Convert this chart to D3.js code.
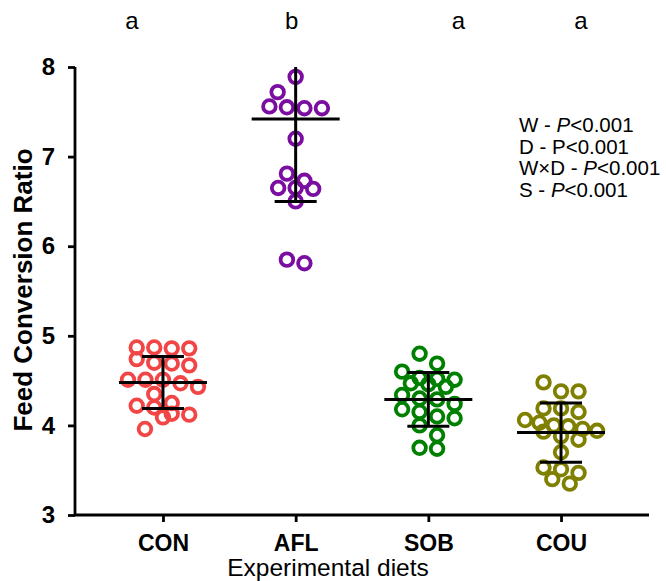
<!DOCTYPE html>
<html>
<head>
<meta charset="utf-8">
<script src="https://cdn.jsdelivr.net/npm/d3@7"></script>
<style>
  body { margin: 0; background: #fff; }
  text { font-family: Arial, "Liberation Sans", sans-serif; }
</style>
</head>
<body>
<svg width="666" height="581"></svg>
<script>
// data
const categories = ["CON", "AFL", "SOB", "COU"];
const conValues = [4.87, 4.87, 4.86, 4.86, 4.74, 4.70, 4.69, 4.67, 4.51, 4.51, 4.51,
                   4.47, 4.43, 4.35, 4.25, 4.22, 4.20, 4.13, 4.12, 4.09, 3.96];
const aflValues = [7.89, 7.72, 7.56, 7.55, 7.54, 7.54, 7.20, 6.81, 6.73, 6.65, 6.65,
                   6.64, 6.50, 5.85, 5.81];
const sobValues = [4.80, 4.69, 4.60, 4.53, 4.52, 4.51, 4.47, 4.46, 4.43, 4.34, 4.30,
                   4.29, 4.24, 4.18, 4.15, 4.10, 4.08, 4.00, 3.89, 3.75, 3.74];
const couValues = [4.48, 4.38, 4.38, 4.19, 4.19, 4.15, 4.06, 4.03, 4.00, 3.99, 3.96,
                   3.94, 3.93, 3.88, 3.84, 3.70, 3.53, 3.51, 3.47, 3.40, 3.35];
const groupMeans = [4.48, 7.42, 4.29, 3.92];
const groupSDs = [0.29, 0.92, 0.30, 0.33];
const groupLetters = ["a", "b", "a", "a"];
const yTicks = [3, 4, 5, 6, 7, 8];
const statLines = [
  ["W - ", "P", "<0.001"],
  ["D - P<0.001", "", ""],
  ["W×D - ", "P", "<0.001"],
  ["S - ", "P", "<0.001"]
];

const groups = [conValues, aflValues, sobValues, couValues];
const colors = ["#f24646", "#7a0ea0", "#008000", "#808000"];

const svg = d3.select("svg");

const x = d3.scalePoint().domain(categories).range([75, 649]).padding(0.663);
const y = d3.scaleLinear().domain([3, 8]).range([515, 67]);

// prism-like scatter: rows of near-equal values spread around the centre
function scatterLayout(vals) {
  const sorted = vals.slice().sort((a, b) => b - a);
  const rows = [];
  sorted.forEach(v => {
    const last = rows[rows.length - 1];
    if (last && y(v) - y(last[0]) < 11) last.push(v);
    else rows.push([v]);
  });
  const out = [];
  let prevSingle = false, side = -1;
  rows.forEach(r => {
    const n = r.length;
    const s = n > 1 ? Math.min(17.5, 72 / (n - 1)) : 0;
    // a lone point right below another lone point gets pushed aside
    let shift = 0;
    if (n === 1 && prevSingle) { shift = side * 18; side = -side; }
    r.forEach((v, i) => out.push({ v, dx: (i - (n - 1) / 2) * s + shift }));
    prevSingle = n === 1 && shift === 0;
  });
  return out;
}

// axes
const yAxis = svg.append("g")
  .attr("transform", "translate(75,0)")
  .call(d3.axisLeft(y).tickValues(yTicks).tickFormat(d3.format("d")).tickSize(7).tickPadding(13));
const xAxis = svg.append("g")
  .attr("transform", "translate(0,515)")
  .call(d3.axisBottom(x).tickSize(7).tickSizeOuter(0).tickPadding(13));

[yAxis, xAxis].forEach(a => {
  a.selectAll("path, line").attr("stroke", "#000").attr("stroke-width", 2.8);
  a.selectAll("text").attr("fill", "#000").style("font-weight", "bold")
    .style("font-family", "Arial, 'Liberation Sans', sans-serif");
});
yAxis.selectAll("text").style("font-size", "24px");
xAxis.selectAll("text").style("font-size", "23px");
yAxis.select("path").attr("d", "M0," + y(8) + "V" + y(3));
xAxis.select("path").attr("d", "M75,0H649");

// points
groups.forEach((vals, gi) => {
  const cx = x(categories[gi]);
  svg.append("g").selectAll("circle")
    .data(scatterLayout(vals))
    .join("circle")
    .attr("cx", d => cx + d.dx)
    .attr("cy", d => y(d.v))
    .attr("r", 6.3)
    .attr("fill", "none")
    .attr("stroke", colors[gi])
    .attr("stroke-width", 3.8);
});

// mean and SD bars
const [yMin, yMax] = y.domain();
categories.forEach((c, i) => {
  const cx = x(c);
  const m = groupMeans[i], s = groupSDs[i];
  const hi = Math.min(m + s, yMax), lo = Math.max(m - s, yMin);
  const g = svg.append("g").attr("stroke", "#000").attr("stroke-width", 3);
  g.append("line").attr("x1", cx).attr("x2", cx).attr("y1", y(hi)).attr("y2", y(lo));
  g.append("line").attr("x1", cx - 44).attr("x2", cx + 44).attr("y1", y(m)).attr("y2", y(m));
  if (m + s <= yMax)
    g.append("line").attr("x1", cx - 21).attr("x2", cx + 21).attr("y1", y(hi)).attr("y2", y(hi));
  g.append("line").attr("x1", cx - 21).attr("x2", cx + 21).attr("y1", y(lo)).attr("y2", y(lo));
});

// significance letters
const letterShift = [-31, -4, 30, 20];
svg.append("g").selectAll("text")
  .data(groupLetters)
  .join("text")
  .attr("x", (d, i) => x(categories[i]) + letterShift[i])
  .attr("y", 29)
  .attr("text-anchor", "middle")
  .style("font-size", "24px")
  .text(d => d);

// axis titles
svg.append("text")
  .attr("x", 328).attr("y", 576)
  .attr("text-anchor", "middle")
  .style("font-size", "24.5px")
  .text("Experimental diets");
svg.append("text")
  .attr("transform", "translate(32,290) rotate(-90)")
  .attr("text-anchor", "middle")
  .style("font-size", "26px")
  .style("font-weight", "bold")
  .text("Feed Conversion Ratio");

// statistics block
const stat = svg.append("g").style("font-size", "20.5px");
statLines.forEach((parts, i) => {
  const t = stat.append("text").attr("x", 519).attr("y", 132 + i * 21.5);
  t.append("tspan").text(parts[0]);
  if (parts[1]) t.append("tspan").style("font-style", "italic").text(parts[1]);
  if (parts[2]) t.append("tspan").text(parts[2]);
});
</script>
</body>
</html>
